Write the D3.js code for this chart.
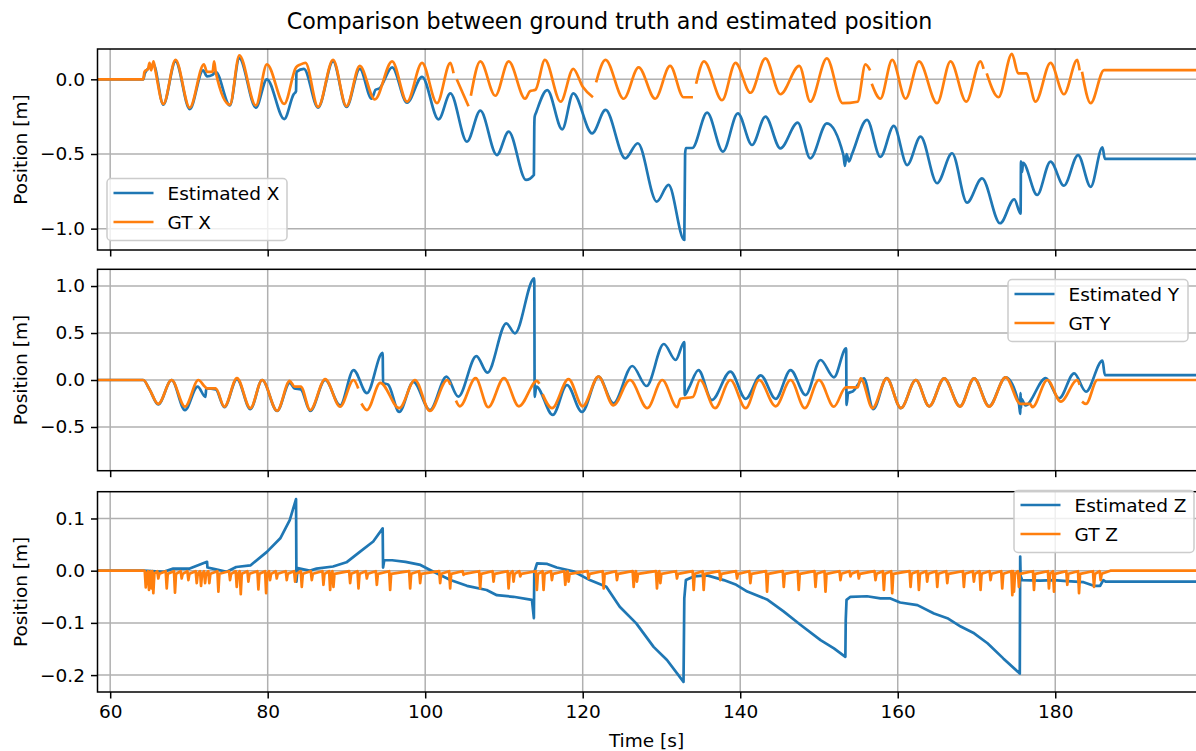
<!DOCTYPE html>
<html><head><meta charset="utf-8">
<script src="https://cdn.jsdelivr.net/npm/d3@7"></script>
<style>
html,body{margin:0;padding:0;background:#fff;overflow:hidden}
svg{display:block;font-family:"DejaVu Sans",sans-serif}
</style></head><body>
<svg id="chart" width="1196" height="751"></svg>
<script>
// ---- data (time in s, position in m) ----
const timeTicks = [60, 80, 100, 120, 140, 160, 180];
const timeRange = [58.39, 198.0];
const titleText = "Comparison between ground truth and estimated position";
const yLabelText = "Position [m]";
const xLabelText = "Time [s]";

const yTicksX = [0, -0.5, -1.0];
const yTicksY = [1.0, 0.5, 0.0, -0.5];
const yTicksZ = [0.1, 0.0, -0.1, -0.2];

const legendX = ["Estimated X", "GT X"];
const legendY = ["Estimated Y", "GT Y"];
const legendZ = ["Estimated Z", "GT Z"];

// estimated X
const estX = [
  [58.39,0],[64.2,0],[64.4,0.04],[65.0,0.08],[65.5,0.1],[66.75,-0.17],[68.3,0.12],[70.1,-0.2],
  [71.8,0.06],[72.3,0.02],[73.0,0.03],[73.4,0.05],[75.2,-0.175],[76.4,0.14],[78.5,-0.19],
  [79.9,0.0],[82.1,-0.266],[83.3,-0.1],[83.6,-0.08],[83.65,0.05],[84.6,0.07],[86.4,-0.19],
  [88.3,0.12],[90.0,-0.185],[91.7,0.07],[93.2,-0.13],[93.7,-0.07],[94.2,-0.06],[95.8,0.08],
  [97.7,-0.157],[99.6,0.017],[101.7,-0.268],[103.2,-0.094],[105.3,-0.418],[107.0,-0.21],
  [109.1,-0.507],[110.6,-0.35],[112.8,-0.674],[113.8,-0.64],[113.85,-0.32],[113.9,-0.25],
  [114.1,-0.22],[115.5,-0.072],[117.4,-0.335],[118.8,-0.094],[121.2,-0.362],[122.9,-0.205],
  [125.4,-0.529],[127.0,-0.428],[129.4,-0.819],[130.9,-0.707],[132.9,-1.076],[133.0,-0.5],
  [133.1,-0.46],[133.9,-0.46],[135.8,-0.223],[137.8,-0.484],[139.7,-0.228],[141.5,-0.44],
  [143.2,-0.25],[145.1,-0.462],[147.3,-0.29],[148.9,-0.529],[151.0,-0.295],[153.1,-0.507],
  [153.3,-0.58],[153.5,-0.5],[153.8,-0.55],[154.2,-0.5],[156.1,-0.272],[157.8,-0.52],
  [159.5,-0.312],[161.2,-0.574],[162.9,-0.384],[165.0,-0.696],[166.9,-0.495],[168.8,-0.826],
  [170.7,-0.663],[173.0,-0.964],[174.8,-0.803],[175.6,-0.9],[175.65,-0.55],[175.8,-0.62],
  [175.9,-0.56],[177.7,-0.774],[179.4,-0.551],[181.1,-0.712],[182.9,-0.507],[184.5,-0.72],
  [186.0,-0.455],[186.3,-0.533],[198.0,-0.533]
];
// ground truth X (null = missing samples)
const gtX = [
  [58.39,0],[64.2,0],[64.35,0.05],[64.8,0.07],[65.0,0.11],[65.2,0.06],[65.5,0.12],[65.7,0.07],
  [66.75,-0.165],[68.3,0.13],[70.1,-0.19],[71.9,0.1],[72.3,0.05],[73.0,0.05],[73.2,0.12],
  [73.4,0.05],[75.2,-0.17],[76.4,0.16],[78.5,-0.175],[79.9,0.1],[82.1,-0.165],[83.6,0.08],
  [84.2,0.1],[84.8,0.11],[86.4,-0.185],[88.3,0.13],[90.0,-0.18],[91.7,0.09],[93.6,-0.135],
  [95.8,0.12],[97.7,-0.15],[99.6,0.11],[101.5,-0.16],[103.2,0.11],[103.6,0.04],null,
  [104.0,0.0],[105.5,-0.18],null,[105.8,-0.11],[107.0,0.12],[108.9,-0.11],[110.6,0.12],
  [112.7,-0.13],[113.3,-0.08],[114.0,-0.07],[115.2,0.13],[117.2,-0.15],[118.8,0.07],
  [120.0,-0.05],[121.3,-0.12],null,[121.7,-0.02],[122.9,0.13],[125.2,-0.13],[127.1,0.08],
  [129.2,-0.13],[131.1,0.09],[132.8,-0.12],[134.0,-0.12],null,[134.4,-0.03],[135.4,0.12],
  [137.7,-0.14],[139.4,0.11],[141.3,-0.09],[143.2,0.14],[145.1,-0.1],[147.5,0.09],
  [148.9,-0.15],[151.0,0.14],[153.0,-0.16],[154.9,-0.15],[155.9,0.1],[156.5,0.06],null,
  [156.7,-0.03],[157.8,-0.13],[159.3,0.13],[161.0,-0.13],[162.7,0.12],[165.0,-0.16],
  [166.7,0.12],[168.7,-0.15],[170.5,0.12],[170.9,0.07],null,[171.3,0.04],[172.8,-0.12],
  [174.5,0.17],[175.3,0.04],[176.3,0.04],[177.5,-0.15],[179.4,0.11],[181.1,-0.1],
  [182.8,0.13],[183.1,0.06],null,[183.4,0.05],[184.5,-0.16],[186.2,0.062],[198.0,0.062]
];

// estimated Y
const estY = [
  [58.39,0],[64.2,0],[65.0,-0.1],[66.1,-0.26],[67.8,0.0],[69.5,-0.32],[71.1,-0.07],
  [72.1,-0.18],[72.2,-0.09],[73.4,-0.1],[74.5,-0.29],[76.1,0.01],[77.8,-0.31],[79.3,0.0],
  [81.2,-0.33],[82.8,-0.03],[83.4,-0.09],[84.2,-0.1],[85.4,-0.33],[87.3,0.0],[89.2,-0.27],
  [90.9,0.106],[92.6,-0.14],[94.6,0.29],[94.65,-0.03],[95.3,-0.05],[96.7,-0.34],[98.5,-0.02],
  [100.6,-0.32],[102.7,0.035],[104.2,-0.177],[106.5,0.255],[107.9,0.078],[110.3,0.603],
  [111.4,0.497],[113.85,1.082],[113.9,-0.18],[114.1,-0.07],[116.2,-0.372],[118.0,-0.053],
  [119.9,-0.34],[122.0,0.035],[123.9,-0.248],[126.3,0.149],[128.1,-0.064],[130.3,0.383],
  [131.8,0.213],[132.9,0.404],[132.95,-0.16],[133.5,-0.08],[134.7,0.106],[136.4,-0.213],
  [138.75,0.09],[140.7,-0.2],[142.6,0.05],[144.5,-0.2],[146.4,0.106],[148.3,-0.16],
  [150.2,0.213],[151.9,0.028],[153.45,0.337],[153.5,-0.266],[153.7,-0.14],[154.3,-0.12],
  [155.7,0.018],[156.9,-0.31],[158.6,0.02],[160.4,-0.3],[162.3,0.0],[164.0,-0.28],
  [165.9,0.018],[167.9,-0.28],[169.7,0.018],[171.6,-0.28],[173.7,0.028],[175.4,-0.26],
  [175.55,-0.36],[175.6,-0.14],[175.65,-0.3],[175.7,-0.2],[176.2,-0.27],[178.8,0.02],
  [180.5,-0.195],[182.4,0.071],[183.9,-0.124],[186.0,0.206],[186.3,0.053],[198.0,0.053]
];
// ground truth Y
const gtY = [
  [58.39,0],[64.2,0],[65.0,-0.1],[66.1,-0.255],[67.8,0.0],[69.5,-0.284],[71.2,0.0],
  [72.0,-0.07],[72.3,-0.09],[73.4,-0.09],[74.5,-0.284],[76.1,0.02],[77.8,-0.3],[79.3,0.0],
  [81.2,-0.326],[82.8,-0.01],[83.4,-0.07],[84.2,-0.07],[85.4,-0.32],[87.3,0.01],[89.2,-0.284],
  [90.9,0.0],[91.5,-0.09],null,[91.9,-0.25],[92.6,-0.32],[94.3,-0.03],[96.7,-0.3],[98.7,0.0],
  [100.6,-0.33],[102.8,0.0],[103.2,-0.05],null,[103.9,-0.22],[104.4,-0.28],[106.4,0.02],
  [108.0,-0.29],[110.0,0.02],[111.9,-0.28],[114.2,-0.01],[114.5,-0.04],null,[114.9,-0.15],
  [116.1,-0.3],[118.2,0.01],[120.0,-0.28],[122.0,0.035],[123.9,-0.27],[126.0,0.0],
  [128.2,-0.3],[130.1,0.0],[132.0,-0.29],[132.4,-0.2],[134.0,-0.18],[134.9,0.0],
  [136.8,-0.3],[138.75,0.0],[140.7,-0.3],[142.4,0.0],[144.5,-0.28],[146.4,0.0],[148.2,-0.3],
  [150.0,0.0],[151.9,-0.284],[153.4,-0.078],[154.9,-0.078],[155.3,0.018],[156.8,-0.3],
  [158.6,0.018],[160.4,-0.3],[162.3,0.0],[164.0,-0.28],[165.9,0.018],[167.9,-0.284],
  [169.7,0.018],[171.6,-0.284],[173.7,0.028],[175.6,-0.255],[176.8,-0.255],[177.1,-0.29],
  [179.0,0.0],[180.7,-0.23],[182.8,0.0],[183.1,-0.05],null,[183.4,-0.23],[183.9,-0.255],
  [185.35,0.0],[198.0,0.0]
];

// estimated Z
const estZ = [
  [58.39,0],[64.2,0],[66.8,-0.002],[68.0,0.004],[70.1,0.004],[72.3,0.017],[72.35,0.006],
  [73.0,0.004],[74.8,-0.002],[76.0,0.007],[77.8,0.01],[79.9,0.036],[81.6,0.062],[82.8,0.097],
  [83.6,0.137],[83.65,-0.021],[83.8,0.005],[85.3,0.0],[86.2,0.004],[88.3,0.008],[90.0,0.016],
  [91.7,0.036],[93.4,0.056],[94.6,0.081],[94.65,0.006],[94.8,0.02],[95.8,0.02],[97.5,0.017],
  [99.4,0.011],[100.8,0.0],[103.2,-0.018],[105.3,-0.029],[107.8,-0.037],[109.1,-0.047],
  [111.2,-0.05],[113.55,-0.056],[113.8,-0.091],[113.85,-0.003],[114.2,0.014],[115.5,0.013],
  [116.7,0.006],[118.8,-0.001],[120.9,-0.018],[123.0,-0.031],[124.7,-0.069],[126.8,-0.101],
  [129.0,-0.146],[130.7,-0.171],[132.8,-0.213],[132.9,-0.053],[133.1,-0.018],[134.1,-0.011],
  [135.8,-0.009],[137.9,-0.018],[139.5,-0.027],[140.9,-0.04],[143.4,-0.055],[145.5,-0.078],
  [147.6,-0.103],[150.2,-0.133],[151.9,-0.149],[153.35,-0.165],[153.4,-0.094],[153.5,-0.056],
  [154.0,-0.05],[156.1,-0.049],[157.8,-0.053],[159.0,-0.053],[160.3,-0.061],[162.5,-0.066],
  [164.6,-0.082],[166.3,-0.091],[168.0,-0.107],[169.7,-0.12],[171.4,-0.139],[173.4,-0.168],
  [175.5,-0.197],[175.55,0.027],[175.6,-0.01],[175.8,-0.018],[178.1,-0.019],[179.8,-0.018],
  [181.5,-0.02],[183.6,-0.022],[184.9,-0.029],[185.7,-0.029],[186.1,-0.018],[186.4,-0.021],
  [198.0,-0.021]
];
// ground truth Z: noisy flat trace with short downward spikes [time, depth]
const gtZStart = 64.3, gtZEnd = 187.0;
const gtZHigh = -0.001, gtZLow = -0.006;
const gtZSpikes = [
  [64.52,-0.032],[64.93,-0.037],[65.27,-0.034],[65.48,-0.043],[66.11,-0.015],[67.18,-0.034],
  [68.23,-0.042],[69.08,-0.015],[69.93,-0.018],[70.99,-0.024],[71.54,-0.029],[72.05,-0.024],
  [72.59,-0.024],[73.74,-0.04],[75.22,-0.018],[76.07,-0.031],[76.58,-0.045],[77.55,-0.021],
  [78.82,-0.036],[79.8,-0.043],[80.3,-0.018],[81.15,-0.015],[82.42,-0.018],[83.48,-0.021],
  [84.33,-0.031],[85.6,-0.018],[87.08,-0.027],[87.93,-0.037],[88.35,-0.031],[90.47,-0.024],
  [91.53,-0.034],[92.59,-0.015],[93.86,-0.027],[95.55,-0.037],[98.09,-0.034],[99.36,-0.024],
  [101.9,-0.024],[103.17,-0.034],[104.87,-0.008],[106.98,-0.034],[108.68,-0.021],
  [110.59,-0.034],[111.22,-0.021],[112.07,-0.011],[114.18,-0.037],[115.03,-0.037],
  [116.09,-0.018],[117.79,-0.027],[118.21,-0.021],[120.75,-0.015],[122.66,-0.034],
  [124.35,-0.018],[126.47,-0.031],[126.89,-0.021],[129.43,-0.034],[129.86,-0.024],
  [131.97,-0.015],[134.09,-0.037],[135.36,-0.037],[137.48,-0.018],[139.6,-0.015],
  [141.29,-0.024],[143.41,-0.04],[145.53,-0.031],[147.43,-0.037],[149.56,-0.031],
  [150.83,-0.04],[152.73,-0.018],[154.0,-0.011],[155.06,-0.015],[157.18,-0.018],
  [158.24,-0.037],[159.3,-0.043],[161.63,-0.031],[162.69,-0.037],[163.74,-0.021],
  [165.02,-0.031],[166.29,-0.024],[168.4,-0.031],[169.67,-0.021],[170.52,-0.037],
  [171.79,-0.018],[173.27,-0.034],[174.55,-0.047],[174.76,-0.04],[175.39,-0.031],
  [177.3,-0.037],[179.2,-0.034],[179.84,-0.04],[181.53,-0.027],[183.02,-0.043],
  [184.92,-0.031],[185.77,-0.018]
];

// ---- layout & style ----
const left = 97.5, right = 1197;
const blue = "#1f77b4", orange = "#ff7f0e";
const fontSize = 18.5, lineW = 2.7, thinW = 1.5;
const panels = [
  {top: 49,    bottom: 250,   domain: [-1.143, 0.203],   ticks: yTicksX, est: estX, legend: legendX, lx: 107,  ly: 178.5},
  {top: 269.3, bottom: 470.7, domain: [-0.965, 1.178],   ticks: yTicksY, est: estY, legend: legendY, lx: 1008, ly: 279.5},
  {top: 491.7, bottom: 692,   domain: [-0.2324, 0.1513], ticks: yTicksZ, est: estZ, legend: legendZ, lx: 1014, ly: 490.5}
];

// each spike: band top just before, spike sample, band bottom just after
function buildGtZ() {
  const pts = [[timeRange[0], 0], [gtZStart, 0]];
  gtZSpikes.forEach(([t, d]) => { pts.push([t - 0.13, gtZHigh], [t, d], [t + 0.13, gtZLow]); });
  pts.push([gtZEnd, 0], [timeRange[1], 0]);
  return pts;
}
panels[0].gt = gtX; panels[0].gtCurve = d3.curveMonotoneX; panels[0].estCurve = d3.curveMonotoneX;
panels[1].gt = gtY; panels[1].gtCurve = d3.curveMonotoneX; panels[1].estCurve = d3.curveMonotoneX;
panels[2].gt = buildGtZ(); panels[2].gtCurve = d3.curveLinear; panels[2].estCurve = d3.curveLinear;

const svg = d3.select("#chart");
const x = d3.scaleLinear().domain(timeRange).range([left, right]);
const fmt = d3.format(".1f");

svg.append("text").attr("x", 609.5).attr("y", 28.5).attr("text-anchor", "middle")
  .attr("font-size", 22.2).attr("fill", "#000").text(titleText);

panels.forEach((p, i) => {
  const y = d3.scaleLinear().domain(p.domain).range([p.bottom, p.top]);
  const g = svg.append("g");
  const clipId = "clip" + i;
  svg.append("clipPath").attr("id", clipId).append("rect")
    .attr("x", left).attr("y", p.top).attr("width", right - left).attr("height", p.bottom - p.top);

  // grid
  const grid = g.append("g").attr("stroke", "#b0b0b0").attr("stroke-width", thinW);
  timeTicks.forEach(t => grid.append("line").attr("x1", x(t)).attr("x2", x(t)).attr("y1", p.top).attr("y2", p.bottom));
  p.ticks.forEach(v => grid.append("line").attr("x1", left).attr("x2", right).attr("y1", y(v)).attr("y2", y(v)));

  // series
  const line = d3.line().defined(d => d).x(d => x(d[0])).y(d => y(d[1]));
  const lines = g.append("g").attr("clip-path", `url(#${clipId})`).attr("fill", "none")
    .attr("stroke-width", lineW).attr("stroke-linejoin", "round").attr("stroke-linecap", "butt");
  lines.append("path").attr("d", line.curve(p.estCurve)(p.est)).attr("stroke", blue);
  lines.append("path").attr("d", line.curve(p.gtCurve)(p.gt)).attr("stroke", orange);

  // spines
  g.append("rect").attr("x", left).attr("y", p.top).attr("width", right - left).attr("height", p.bottom - p.top)
    .attr("fill", "none").attr("stroke", "#000").attr("stroke-width", thinW);

  // y axis
  const ya = g.append("g").attr("transform", `translate(${left},0)`)
    .call(d3.axisLeft(y).tickValues(p.ticks).tickSize(6.5).tickPadding(6).tickFormat(fmt));
  ya.select(".domain").remove();
  ya.selectAll(".tick line").attr("stroke-width", thinW);
  ya.selectAll("text").attr("font-size", fontSize).attr("font-family", "DejaVu Sans").attr("fill", "#000");

  // x axis (labels only on the bottom panel)
  const xa = g.append("g").attr("transform", `translate(0,${p.bottom})`)
    .call(d3.axisBottom(x).tickValues(timeTicks).tickSize(6.5).tickPadding(6.5).tickFormat(i === 2 ? d3.format("d") : () => ""));
  xa.select(".domain").remove();
  xa.selectAll(".tick line").attr("stroke-width", thinW);
  xa.selectAll("text").attr("font-size", fontSize).attr("font-family", "DejaVu Sans").attr("fill", "#000");

  // y label
  svg.append("text").attr("transform", `translate(27,${(p.top + p.bottom) / 2}) rotate(-90)`)
    .attr("text-anchor", "middle").attr("font-size", fontSize).text(yLabelText);

  // legend
  const lw = 180, lh = 62;
  const lg = svg.append("g").attr("transform", `translate(${p.lx},${p.ly})`);
  lg.append("rect").attr("width", lw).attr("height", lh).attr("rx", 4)
    .attr("fill", "#fff").attr("fill-opacity", 0.8).attr("stroke", "#cccccc").attr("stroke-width", thinW);
  [blue, orange].forEach((c, k) => {
    const cy = 14.5 + k * 29;
    lg.append("line").attr("x1", 6.5).attr("x2", 46.5).attr("y1", cy).attr("y2", cy)
      .attr("stroke", c).attr("stroke-width", lineW);
    lg.append("text").attr("x", 60.5).attr("y", cy + 6.7).attr("font-size", fontSize).text(p.legend[k]);
  });
});

svg.append("text").attr("x", 646.5).attr("y", 746.5).attr("text-anchor", "middle")
  .attr("font-size", fontSize).text(xLabelText);
</script>
</body></html>
